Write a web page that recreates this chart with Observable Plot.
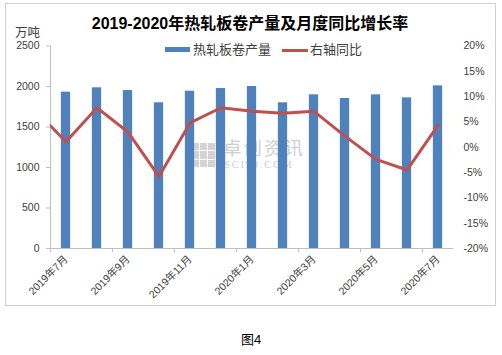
<!DOCTYPE html>
<html>
<head>
<meta charset="utf-8">
<script src="https://cdn.jsdelivr.net/npm/d3@7"></script>
<script src="https://cdn.jsdelivr.net/npm/@observablehq/plot@0.6"></script>
<style>
  html, body { margin: 0; padding: 0; background: #fff; }
  #wrap { position: relative; width: 502px; height: 355px; overflow: hidden;
          font-family: "Liberation Sans", "Noto Sans CJK SC", sans-serif; color: #404040; }
  .abs { position: absolute; white-space: nowrap; }
  #frame { left: 5px; top: 3px; width: 489px; height: 301px; border: 1px solid #d0d0d0; }
  #title { left: 0; width: 500px; top: 14px; text-align: center; font-size: 16px; font-weight: bold; color: #000; line-height: 20px; }
  #unit { left: 15px; top: 26px; font-size: 12.5px; line-height: 14px; }
  .leg { top: 42px; font-size: 13px; line-height: 16px; }
  #plot { left: 0; top: 0; }
  #caption { left: 0; width: 502px; top: 331px; text-align: center; font-size: 13px; color: #000; line-height: 18px; }
  #wm-logo { left: 192px; top: 143px; width: 23px; height: 24px; display: grid;
             grid-template-columns: 1fr 1fr 1fr; grid-template-rows: 1fr 1fr 1fr; gap: 1px; }
  #wm-logo div { background: #d3d3d3; }
  #wm-cn { left: 223px; top: 140px; font-size: 18.5px; letter-spacing: 2px; color: #cfcfcf; line-height: 18px; }
  #wm-en { left: 224px; top: 160px; font-size: 10.5px; letter-spacing: 1.8px; color: #cfcfcf; line-height: 10px;
           font-family: "Liberation Serif", "DejaVu Serif", serif; }
</style>
</head>
<body>
<div id="wrap">
  <div id="frame" class="abs"></div>
  <div id="wm-logo" class="abs"><div></div><div></div><div></div><div></div><div></div><div></div><div></div><div></div><div></div></div>
  <div id="wm-cn" class="abs">卓创资讯</div>
  <div id="wm-en" class="abs">SCI99.COM</div>
  <div id="plot" class="abs"></div>
  <div id="title" class="abs">2019-2020年热轧板卷产量及月度同比增长率</div>
  <div id="unit" class="abs">万吨</div>
  <div class="abs" style="left:165px;top:47px;width:25px;height:5px;background:#4F81BD"></div>
  <div class="abs leg" style="left:193px">热轧板卷产量</div>
  <div class="abs" style="left:282px;top:48.5px;width:26px;height:3px;background:#C0504D"></div>
  <div class="abs leg" style="left:310px">右轴同比</div>
  <div id="caption" class="abs">图4</div>
</div>
<script>
// Categories (months)
const months = ["2019年7月","2019年8月","2019年9月","2019年10月","2019年11月","2019年12月",
                "2020年1月","2020年2月","2020年3月","2020年4月","2020年5月","2020年6月","2020年7月"];
// Hot-rolled coil output (万吨)
const output = [1930, 1984, 1950, 1799, 1942, 1975, 2000, 1799, 1897, 1852, 1897, 1860, 2008];
// Year-on-year growth (%), right axis
const yoy = [1.1, 7.8, 3.0, -5.8, 4.8, 7.8, 7.1, 6.7, 7.1, 2.2, -2.4, -4.5, 4.3];
// Preceding month (2019年6月), only its segment entering the plot is visible
const yoyPrev = 7.3;

const leftTicks = [0, 500, 1000, 1500, 2000, 2500];
const rightTicks = [-20, -15, -10, -5, 0, 5, 10, 15, 20];
const labelIdx = [0, 2, 4, 6, 8, 10, 12];

const toLeft = p => (p + 20) / 40 * 2500;
const bars = months.map((m, i) => ({i, m, v: output[i]}));
const lineData = [{i: -1, p: yoyPrev}, ...yoy.map((p, i) => ({i, p}))];
const boundaries = d3.range(0, 13, 2).map(i => i - 0.5);

const chart = Plot.plot({
  width: 502,
  height: 305,
  marginTop: 45.5,
  marginBottom: 57,
  marginLeft: 50,
  marginRight: 49,
  x: {domain: [-0.5, 12.5], axis: null},
  y: {domain: [0, 2500], axis: null},
  style: {background: "transparent", fontFamily: '"Liberation Sans", "Noto Sans CJK SC", sans-serif', fontSize: "10.5px", color: "#404040", overflow: "visible"},
  marks: [
    Plot.rectY(bars, {x1: d => d.i - 0.15, x2: d => d.i + 0.15, y: "v", fill: "#4F81BD"}),
    Plot.ruleX([-0.5], {stroke: "#bfbfbf"}),
    Plot.ruleY([0], {stroke: "#bfbfbf"}),
    Plot.axisY({ticks: leftTicks, tickSize: 4, tickPadding: 7, label: null, stroke: "#bfbfbf", fill: "#404040", tickFormat: d => String(d)}),
    Plot.axisY({anchor: "right", ticks: rightTicks.map(toLeft), tickSize: 0, tickPadding: 10, label: null, fill: "#404040",
                tickFormat: d => Math.round(d / 2500 * 40 - 20) + "%"}),
    Plot.axisX({ticks: boundaries, tickSize: 4, tickFormat: () => "", label: null, stroke: "#bfbfbf"}),
    Plot.axisX({ticks: labelIdx, tickSize: 0, tickPadding: 9, tickRotate: -45, label: null, fill: "#404040", fontSize: 10.5,
                tickFormat: i => months[i]}),
    Plot.line(lineData, {x: "i", y: d => toLeft(d.p), stroke: "#C0504D", strokeWidth: 3, clip: true})
  ]
});
document.getElementById("plot").appendChild(chart);
</script>
</body>
</html>
